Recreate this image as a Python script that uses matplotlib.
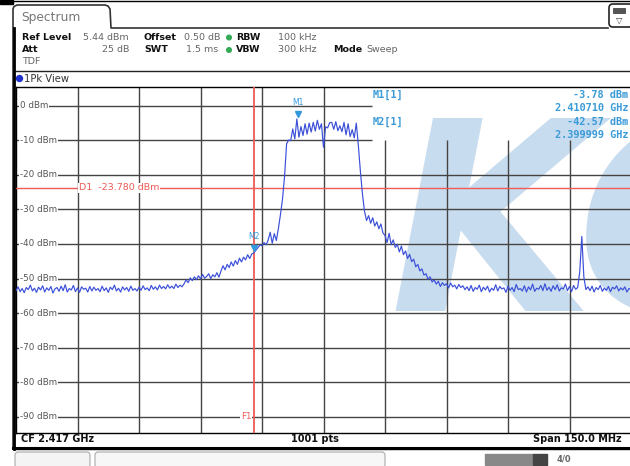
import numpy as np
import matplotlib.pyplot as plt
from matplotlib.patches import Rectangle, FancyBboxPatch, Circle

# ---- screen data ----
start_mhz = 2342.0   # CF 2.417 GHz, span 150 MHz
stop_mhz = 2492.0
step_mhz = 0.5
ref_level = 5.44
level_range = 100.0

# trace level in dBm, one value every 0.5 MHz from 2342 MHz
level_dbm = [
    # 2342
    -53.5, -52.4, -53.8, -52.9, -54.1, -52.6, -53.2, -51.9, -53.6, -52.8,
    -54.0, -52.5, -53.3, -52.1, -53.9, -52.7, -53.4, -52.3, -54.2, -53.0,
    # 2352
    -52.6, -53.7, -52.2, -53.5, -51.8, -53.9, -52.9, -53.3, -52.0, -53.8,
    -52.7, -54.0, -52.4, -53.1, -52.8, -53.9, -52.3, -53.6, -52.5, -53.4,
    # 2362
    -52.9, -53.8, -52.2, -53.5, -52.7, -54.0, -52.5, -53.2, -51.9, -53.6,
    -52.8, -53.9, -52.4, -53.3, -52.6, -53.7, -52.2, -53.4, -52.9, -53.6,
    # 2372
    -52.5, -53.4, -52.1, -53.2, -52.7, -53.5, -52.0, -53.1, -52.4, -53.3,
    -51.9, -52.9, -52.3, -53.0, -51.8, -52.8, -52.2, -52.9, -51.6, -52.6,
    # 2382
    -51.9, -52.4, -51.5, -50.4, -51.2, -49.8, -50.6, -49.5, -50.3, -49.2,
    -50.1, -48.8, -49.9, -49.4, -48.6, -50.0, -48.9, -49.5, -48.3, -49.6,
    # 2392
    -47.8, -46.3, -47.5, -45.9, -46.8, -45.2, -46.4, -44.8, -45.9, -44.1,
    -45.2, -43.8, -44.6, -43.1, -44.2, -42.9, -42.57, -41.8, -41.0, -40.3,
    # 2402
    -40.5, -39.6, -40.2, -38.9, -36.6, -39.8, -37.0, -39.0, -35.5, -31.5,
    -27.0, -20.5, -11.0, -9.9, -10.1, -6.7, -9.6, -3.8, -9.1, -6.0,
    # 2412
    -8.6, -5.2, -8.2, -5.0, -7.6, -4.8, -7.3, -4.2, -6.8, -5.2,
    -12.0, -6.1, -6.4, -4.9, -4.8, -6.8, -4.6, -7.2, -5.8, -7.5,
    # 2422
    -4.8, -8.4, -5.2, -8.9, -6.9, -9.3, -5.0, -11.5, -19.0, -25.5,
    -30.5, -33.2, -31.8, -34.0, -32.4, -34.8, -33.6, -35.6, -34.2, -36.8,
    # 2432
    -37.5, -39.6, -36.9, -40.2, -38.8, -41.0, -40.1, -42.3, -40.6, -43.1,
    -42.0, -44.2, -43.0, -45.1, -44.4, -46.6, -45.9, -47.8, -47.2, -49.0,
    # 2442
    -48.6, -50.2, -49.5, -51.0, -50.4, -51.6, -50.8, -52.3, -51.2, -52.0,
    -51.5, -52.7, -51.3, -52.4, -51.9, -53.0, -51.7, -52.6, -52.1, -53.2,
    # 2452
    -52.4, -53.5, -52.0, -53.7, -52.6, -53.1, -51.9, -53.8, -52.5, -53.3,
    -52.2, -53.9, -52.8, -53.4, -51.8, -53.6, -52.3, -53.0, -52.7, -54.0,
    # 2462
    -52.2, -53.4, -52.6, -53.8, -51.7, -53.2, -52.9, -53.6, -52.1, -53.9,
    -52.4, -53.3, -51.6, -53.7, -52.8, -53.1, -52.0, -53.5, -51.5, -53.4,
    # 2472
    -52.5, -53.7, -52.1, -53.2, -51.8, -53.6, -52.7, -53.0, -51.6, -53.5,
    -52.3, -53.8, -52.0, -53.1, -52.6, -48.0, -37.8, -49.5, -53.2, -52.4,
    # 2482
    -53.5, -52.2, -53.9, -52.6, -53.2, -52.0, -53.7, -52.8, -53.4, -52.3,
    -53.8, -52.5, -53.0, -52.1, -53.6, -52.7, -53.3, -52.4, -53.9, -52.9,
    # 2492
    -53.1,
]
freq_mhz = start_mhz + step_mhz * np.arange(len(level_dbm))

level_ticks = [0, -10, -20, -30, -40, -50, -60, -70, -80, -90]
level_labels = ['0 dBm', '-10 dBm', '-20 dBm', '-30 dBm', '-40 dBm',
                '-50 dBm', '-60 dBm', '-70 dBm', '-80 dBm', '-90 dBm']
freq_grid = [2357, 2372, 2387, 2402, 2417, 2432, 2447, 2462, 2477]

d1_level = -23.78
f1_freq = 2400.0
m1_freq, m1_level = 2410.71, -3.78
m2_freq, m2_level = 2399.999, -42.57
marker_lines = [('M1[1]', '-3.78 dBm'), ('', '2.410710 GHz'),
                ('M2[1]', '-42.57 dBm'), ('', '2.399999 GHz')]
marker_box_left = 2428.8  # marker table covers the grid right of this

header_rows = [
    # (x px, y px, text, bold, align)
    (22, 37.5, 'Ref Level', True, 'left'), (129, 37.5, '5.44 dBm', False, 'right'),
    (144, 37.5, 'Offset', True, 'left'), (184, 37.5, '0.50 dB', False, 'left'),
    (236, 37.5, 'RBW', True, 'left'), (317, 37.5, '100 kHz', False, 'right'),
    (22, 50, 'Att', True, 'left'), (129, 50, '25 dB', False, 'right'),
    (144, 50, 'SWT', True, 'left'), (186, 50, '1.5 ms', False, 'left'),
    (236, 50, 'VBW', True, 'left'), (317, 50, '300 kHz', False, 'right'),
    (333, 50, 'Mode', True, 'left'), (366, 50, 'Sweep', False, 'left'),
    (22, 62, 'TDF', False, 'left'),
]

W, H = 630, 466
fig = plt.figure(figsize=(W / 100, H / 100), dpi=100)

# background layer in screen pixels
bg = fig.add_axes([0, 0, 1, 1])
bg.set_xlim(0, W)
bg.set_ylim(H, 0)
bg.axis('off')

bg.plot([0, W], [1, 1], color='black', lw=1)
bg.add_patch(Rectangle((0, 0), 13, 3.5, color='black'))
tab_x = [13, 13, 14, 17, 105, 108, 110, 111, 608]
tab_y = [449, 9, 6.5, 5, 5, 6, 9, 28, 28]
bg.plot(tab_x, tab_y, color='#333333', lw=1.2)
bg.plot([13.5, 13.5], [28, 449], color='black', lw=2)
bg.text(21, 17, 'Spectrum', fontsize=8.8, color='#777777', va='center')
bg.add_patch(FancyBboxPatch((609, 4), 24, 23, boxstyle='round,pad=0,rounding_size=4',
                            fc='white', ec='#222222', lw=1.2))
bg.add_patch(Rectangle((613, 8), 12, 5, fc='#555555', ec='#333333', lw=0.5))
bg.text(619, 20, '▽', fontsize=6, ha='center', va='center', color='#333333')

for x, y, t, b, ha in header_rows:
    bg.text(x, y, t, fontsize=6.8, fontweight='bold' if b else 'normal',
            color='#111111' if b else '#666666', ha=ha, va='center')
for y in (37.5, 50):
    bg.add_patch(Circle((229, y), 2.3, color='#33aa55'))

bg.add_patch(Rectangle((14, 70.5), 620, 378, fc='white', ec='#222222', lw=1))
bg.add_patch(Circle((19.5, 78.5), 3, color='#2233cc'))
bg.text(24, 78.5, '1Pk View', fontsize=7.2, color='#333333', va='center')

bg.text(21, 439.5, 'CF 2.417 GHz', fontsize=7, fontweight='bold', va='center', color='#111111')
bg.text(315, 439.5, '1001 pts', fontsize=7, fontweight='bold', va='center', ha='center', color='#111111')
bg.text(622, 439.5, 'Span 150.0 MHz', fontsize=7, fontweight='bold', va='center', ha='right', color='#111111')
bg.plot([13, W], [447.5, 447.5], color='black', lw=2.2)

bg.add_patch(FancyBboxPatch((15, 452), 75, 16, boxstyle='round,pad=0,rounding_size=3',
                            fc='#f4f4f4', ec='#aaaaaa', lw=0.8))
bg.add_patch(FancyBboxPatch((95, 452), 290, 16, boxstyle='round,pad=0,rounding_size=3',
                            fc='#f7f7f7', ec='#aaaaaa', lw=0.8))
bg.add_patch(Rectangle((485, 454), 48, 11, color='#888888'))
bg.add_patch(Rectangle((533, 454), 14, 11, color='#444444'))
bg.text(564, 459.5, '4/0', fontsize=6, fontweight='bold', color='#666666', ha='center', va='center')

# ---- trace window ----
bottom = ref_level - level_range
ax = fig.add_axes([16 / W, 1 - 432.5 / H, 615 / W, (432.5 - 87) / H])
ax.set_xlim(start_mhz, stop_mhz)
ax.set_ylim(bottom, ref_level)
ax.set_xticks([])
ax.set_yticks([])
for s in ax.spines.values():
    s.set_color('black')
    s.set_linewidth(1)

ax.text(2433, -59.5, 'KC', fontsize=190, fontweight='bold', style='italic',
        color='#c8dcef', zorder=1, ha='left', va='baseline', clip_on=True)

grid_kw = dict(colors='#444444', lw=1, zorder=2)
for lv in level_ticks:
    right = marker_box_left if lv >= -10 else stop_mhz
    ax.hlines(lv, start_mhz, right, **grid_kw)
for f in freq_grid:
    top = -10 if f > marker_box_left else ref_level
    ax.vlines(f, bottom, top, **grid_kw)

for lv, lab in zip(level_ticks, level_labels):
    ax.text(start_mhz + 0.9, lv, lab, fontsize=6.3, color='#555555', va='center', zorder=3,
            bbox=dict(fc='white', ec='none', pad=0.6))

ax.axhline(d1_level, color='#ee5a55', lw=1, zorder=3)
ax.text(2357.3, d1_level, 'D1  -23.780 dBm', fontsize=6.8, color='#ee5a55', va='center', zorder=3,
        bbox=dict(fc='white', ec='none', pad=0.6))
ax.axvline(f1_freq, color='#ee5a55', lw=1.3, zorder=3)
ax.text(f1_freq - 0.6, -90, 'F1', fontsize=6.3, color='#ee5a55', ha='right', va='center', zorder=3,
        bbox=dict(fc='white', ec='none', pad=0.3))

ax.plot(freq_mhz, level_dbm, color='#3b4fd8', lw=0.85, zorder=4)

mk_color = '#3399dd'
ax.plot([m1_freq], [m1_level + 1.3], marker='v', ms=5, color=mk_color, zorder=5)
ax.text(m1_freq, m1_level + 3.3, 'M1', fontsize=5.5, color=mk_color, ha='center', va='bottom', zorder=5)
ax.plot([m2_freq], [m2_level + 1.3], marker='v', ms=5, color=mk_color, zorder=5)
ax.text(m2_freq, m2_level + 3.3, 'M2', fontsize=5.5, color=mk_color, ha='center', va='bottom', zorder=5)

row_levels = [3.2, -0.7, -4.6, -8.5]
for (name, val), yl in zip(marker_lines, row_levels):
    if name:
        ax.text(marker_box_left + 0.3, yl, name, fontsize=7.4, fontweight='bold', color='#3b9bd8',
                family='DejaVu Sans Mono', va='center', zorder=6)
    ax.text(2491.3, yl, val, fontsize=7.4, fontweight='bold', color='#3b9bd8',
            family='DejaVu Sans Mono', va='center', ha='right', zorder=6)

fig.savefig('out.png', dpi=100)
